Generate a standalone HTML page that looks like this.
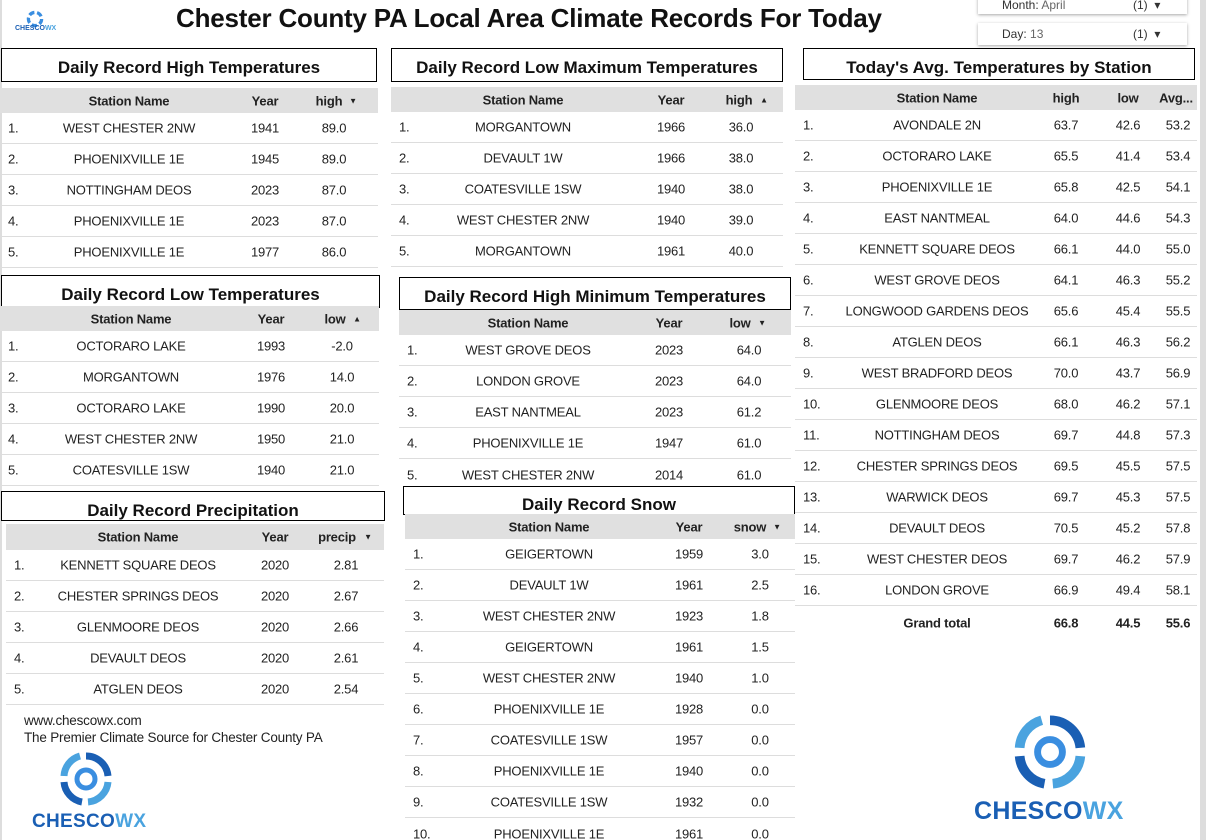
<!DOCTYPE html>
<html><head><meta charset="utf-8"><style>
html,body{margin:0;height:840px;overflow:hidden}
body{width:1206px;position:relative;background:#fff;font-family:"Liberation Sans",sans-serif;color:#222}
.a{position:absolute}
.t{position:absolute;border:1px solid #000;font-weight:bold;font-size:17px;text-align:center;box-sizing:border-box;color:#111}
.h{position:absolute;height:25px;background:#e0e0e0;font-weight:bold;font-size:13px;color:#222;letter-spacing:-0.2px}
.r{position:absolute;height:31px;border-bottom:1px solid #ddd;box-sizing:border-box;font-size:13px;letter-spacing:-0.2px}
.h span,.r span{position:absolute;top:50%;transform:translate(-50%,-50%);white-space:nowrap}
.r span.i{transform:translate(0,-50%);left:8px}
.ar{font-size:8px}
</style></head><body>
<div class="a" style="left:0;top:0;width:2px;height:840px;background:#ddd"></div>
<div class="a" style="left:1200px;top:0;width:6px;height:840px;background:#ddd"></div>

<svg class="a" style="left:20px;top:8px" width="30" height="22" viewBox="0 0 40 40"><circle cx="20" cy="20" r="12" fill="none" stroke="#3a8ee0" stroke-width="6" stroke-dasharray="10 5"/></svg>
<div class="a" style="left:15px;top:25px;font-size:7px;font-weight:bold;color:#1a5fb4">CHESCO<span style="color:#4aa3df">WX</span></div>

<div class="a" style="left:176px;top:3px;font-size:26px;font-weight:bold;color:#111;letter-spacing:-0.2px">Chester County PA Local Area Climate Records For Today</div>

<div class="a" style="left:978px;top:-6px;width:209px;height:20px;box-shadow:0 1px 3px rgba(0,0,0,.35);font-size:12px;color:#333"><span class="a" style="left:24px;top:4px">Month: <span style="color:#666">April</span></span><span class="a" style="left:155px;top:4px">(1) &nbsp;▾</span></div>
<div class="a" style="left:978px;top:23px;width:209px;height:22px;box-shadow:0 1px 3px rgba(0,0,0,.35);font-size:12px;color:#333"><span class="a" style="left:24px;top:4px">Day: <span style="color:#666">13</span></span><span class="a" style="left:155px;top:4px">(1) &nbsp;▾</span></div>

<!-- T1 -->
<div class="t" style="left:1px;top:48px;width:376px;height:34px;line-height:38px">Daily Record High Temperatures</div>
<div class="h" style="left:0;top:88px;width:378px"><span style="left:129px">Station Name</span><span style="left:265px">Year</span><span style="left:329px">high</span><span class="ar" style="left:353px">▼</span></div>
<div class="r" style="left:0;top:113px;width:378px"><span class="i">1.</span><span style="left:129px">WEST CHESTER 2NW</span><span style="left:265px">1941</span><span style="left:334px">89.0</span></div>
<div class="r" style="left:0;top:144px;width:378px"><span class="i">2.</span><span style="left:129px">PHOENIXVILLE 1E</span><span style="left:265px">1945</span><span style="left:334px">89.0</span></div>
<div class="r" style="left:0;top:175px;width:378px"><span class="i">3.</span><span style="left:129px">NOTTINGHAM DEOS</span><span style="left:265px">2023</span><span style="left:334px">87.0</span></div>
<div class="r" style="left:0;top:206px;width:378px"><span class="i">4.</span><span style="left:129px">PHOENIXVILLE 1E</span><span style="left:265px">2023</span><span style="left:334px">87.0</span></div>
<div class="r" style="left:0;top:237px;width:378px"><span class="i">5.</span><span style="left:129px">PHOENIXVILLE 1E</span><span style="left:265px">1977</span><span style="left:334px">86.0</span></div>

<!-- T2 -->
<div class="t" style="left:391px;top:48px;width:392px;height:34px;line-height:38px">Daily Record Low Maximum Temperatures</div>
<div class="h" style="left:391px;top:87px;width:392px"><span style="left:132px">Station Name</span><span style="left:280px">Year</span><span style="left:348px">high</span><span class="ar" style="left:373px">▲</span></div>
<div class="r" style="left:391px;top:112px;width:392px"><span class="i">1.</span><span style="left:132px">MORGANTOWN</span><span style="left:280px">1966</span><span style="left:350px">36.0</span></div>
<div class="r" style="left:391px;top:143px;width:392px"><span class="i">2.</span><span style="left:132px">DEVAULT 1W</span><span style="left:280px">1966</span><span style="left:350px">38.0</span></div>
<div class="r" style="left:391px;top:174px;width:392px"><span class="i">3.</span><span style="left:132px">COATESVILLE 1SW</span><span style="left:280px">1940</span><span style="left:350px">38.0</span></div>
<div class="r" style="left:391px;top:205px;width:392px"><span class="i">4.</span><span style="left:132px">WEST CHESTER 2NW</span><span style="left:280px">1940</span><span style="left:350px">39.0</span></div>
<div class="r" style="left:391px;top:236px;width:392px"><span class="i">5.</span><span style="left:132px">MORGANTOWN</span><span style="left:280px">1961</span><span style="left:350px">40.0</span></div>

<!-- T3 -->
<div class="t" style="left:1px;top:275px;width:379px;height:33px;line-height:38px">Daily Record Low Temperatures</div>
<div class="h" style="left:0;top:306px;width:379px"><span style="left:131px">Station Name</span><span style="left:271px">Year</span><span style="left:335px">low</span><span class="ar" style="left:357px">▲</span></div>
<div class="r" style="left:0;top:331px;width:379px"><span class="i">1.</span><span style="left:131px">OCTORARO LAKE</span><span style="left:271px">1993</span><span style="left:342px">-2.0</span></div>
<div class="r" style="left:0;top:362px;width:379px"><span class="i">2.</span><span style="left:131px">MORGANTOWN</span><span style="left:271px">1976</span><span style="left:342px">14.0</span></div>
<div class="r" style="left:0;top:393px;width:379px"><span class="i">3.</span><span style="left:131px">OCTORARO LAKE</span><span style="left:271px">1990</span><span style="left:342px">20.0</span></div>
<div class="r" style="left:0;top:424px;width:379px"><span class="i">4.</span><span style="left:131px">WEST CHESTER 2NW</span><span style="left:271px">1950</span><span style="left:342px">21.0</span></div>
<div class="r" style="left:0;top:455px;width:379px"><span class="i">5.</span><span style="left:131px">COATESVILLE 1SW</span><span style="left:271px">1940</span><span style="left:342px">21.0</span></div>

<!-- T4 -->
<div class="t" style="left:399px;top:277px;width:392px;height:33px;line-height:38px">Daily Record High Minimum Temperatures</div>
<div class="h" style="left:399px;top:310px;width:392px"><span style="left:129px">Station Name</span><span style="left:270px">Year</span><span style="left:341px">low</span><span class="ar" style="left:363px">▼</span></div>
<div class="r" style="left:399px;top:335px;width:392px"><span class="i">1.</span><span style="left:129px">WEST GROVE DEOS</span><span style="left:270px">2023</span><span style="left:350px">64.0</span></div>
<div class="r" style="left:399px;top:366px;width:392px"><span class="i">2.</span><span style="left:129px">LONDON GROVE</span><span style="left:270px">2023</span><span style="left:350px">64.0</span></div>
<div class="r" style="left:399px;top:397px;width:392px"><span class="i">3.</span><span style="left:129px">EAST NANTMEAL</span><span style="left:270px">2023</span><span style="left:350px">61.2</span></div>
<div class="r" style="left:399px;top:428px;width:392px"><span class="i">4.</span><span style="left:129px">PHOENIXVILLE 1E</span><span style="left:270px">1947</span><span style="left:350px">61.0</span></div>
<div class="r" style="left:399px;top:459px;width:392px;border:none"><span class="i">5.</span><span style="left:129px">WEST CHESTER 2NW</span><span style="left:270px">2014</span><span style="left:350px">61.0</span></div>

<!-- T5 -->
<div class="t" style="left:1px;top:491px;width:384px;height:30px;line-height:38px">Daily Record Precipitation</div>
<div class="h" style="left:6px;top:524px;width:378px;height:26px"><span style="left:132px">Station Name</span><span style="left:269px">Year</span><span style="left:331px">precip</span><span class="ar" style="left:362px">▼</span></div>
<div class="r" style="left:6px;top:550px;width:378px"><span class="i">1.</span><span style="left:132px">KENNETT SQUARE DEOS</span><span style="left:269px">2020</span><span style="left:340px">2.81</span></div>
<div class="r" style="left:6px;top:581px;width:378px"><span class="i">2.</span><span style="left:132px">CHESTER SPRINGS DEOS</span><span style="left:269px">2020</span><span style="left:340px">2.67</span></div>
<div class="r" style="left:6px;top:612px;width:378px"><span class="i">3.</span><span style="left:132px">GLENMOORE DEOS</span><span style="left:269px">2020</span><span style="left:340px">2.66</span></div>
<div class="r" style="left:6px;top:643px;width:378px"><span class="i">4.</span><span style="left:132px">DEVAULT DEOS</span><span style="left:269px">2020</span><span style="left:340px">2.61</span></div>
<div class="r" style="left:6px;top:674px;width:378px"><span class="i">5.</span><span style="left:132px">ATGLEN DEOS</span><span style="left:269px">2020</span><span style="left:340px">2.54</span></div>

<div class="a" style="left:24px;top:712px;font-size:13.5px;line-height:17px;color:#222;letter-spacing:-0.2px">www.chescowx.com<br>The Premier Climate Source for Chester County PA</div>

<!-- T6 -->
<div class="t" style="left:403px;top:486px;width:392px;height:29px;line-height:36px">Daily Record Snow</div>
<div class="h" style="left:405px;top:514px;width:390px"><span style="left:144px">Station Name</span><span style="left:284px">Year</span><span style="left:345px">snow</span><span class="ar" style="left:372px">▼</span></div>
<div class="r" style="left:405px;top:539px;width:390px"><span class="i">1.</span><span style="left:144px">GEIGERTOWN</span><span style="left:284px">1959</span><span style="left:355px">3.0</span></div>
<div class="r" style="left:405px;top:570px;width:390px"><span class="i">2.</span><span style="left:144px">DEVAULT 1W</span><span style="left:284px">1961</span><span style="left:355px">2.5</span></div>
<div class="r" style="left:405px;top:601px;width:390px"><span class="i">3.</span><span style="left:144px">WEST CHESTER 2NW</span><span style="left:284px">1923</span><span style="left:355px">1.8</span></div>
<div class="r" style="left:405px;top:632px;width:390px"><span class="i">4.</span><span style="left:144px">GEIGERTOWN</span><span style="left:284px">1961</span><span style="left:355px">1.5</span></div>
<div class="r" style="left:405px;top:663px;width:390px"><span class="i">5.</span><span style="left:144px">WEST CHESTER 2NW</span><span style="left:284px">1940</span><span style="left:355px">1.0</span></div>
<div class="r" style="left:405px;top:694px;width:390px"><span class="i">6.</span><span style="left:144px">PHOENIXVILLE 1E</span><span style="left:284px">1928</span><span style="left:355px">0.0</span></div>
<div class="r" style="left:405px;top:725px;width:390px"><span class="i">7.</span><span style="left:144px">COATESVILLE 1SW</span><span style="left:284px">1957</span><span style="left:355px">0.0</span></div>
<div class="r" style="left:405px;top:756px;width:390px"><span class="i">8.</span><span style="left:144px">PHOENIXVILLE 1E</span><span style="left:284px">1940</span><span style="left:355px">0.0</span></div>
<div class="r" style="left:405px;top:787px;width:390px"><span class="i">9.</span><span style="left:144px">COATESVILLE 1SW</span><span style="left:284px">1932</span><span style="left:355px">0.0</span></div>
<div class="r" style="left:405px;top:818px;width:390px;border:none"><span class="i">10.</span><span style="left:144px">PHOENIXVILLE 1E</span><span style="left:284px">1961</span><span style="left:355px">0.0</span></div>

<!-- T7 -->
<div class="t" style="left:803px;top:48px;width:392px;height:32px;line-height:37px">Today's Avg. Temperatures by Station</div>
<div class="h" style="left:795px;top:85px;width:402px"><span style="left:142px">Station Name</span><span style="left:271px">high</span><span style="left:333px">low</span><span style="left:381px">Avg...</span></div>
<div class="r" style="left:795px;top:110px;width:402px"><span class="i">1.</span><span style="left:142px">AVONDALE 2N</span><span style="left:271px">63.7</span><span style="left:333px">42.6</span><span style="left:383px">53.2</span></div>
<div class="r" style="left:795px;top:141px;width:402px"><span class="i">2.</span><span style="left:142px">OCTORARO LAKE</span><span style="left:271px">65.5</span><span style="left:333px">41.4</span><span style="left:383px">53.4</span></div>
<div class="r" style="left:795px;top:172px;width:402px"><span class="i">3.</span><span style="left:142px">PHOENIXVILLE 1E</span><span style="left:271px">65.8</span><span style="left:333px">42.5</span><span style="left:383px">54.1</span></div>
<div class="r" style="left:795px;top:203px;width:402px"><span class="i">4.</span><span style="left:142px">EAST NANTMEAL</span><span style="left:271px">64.0</span><span style="left:333px">44.6</span><span style="left:383px">54.3</span></div>
<div class="r" style="left:795px;top:234px;width:402px"><span class="i">5.</span><span style="left:142px">KENNETT SQUARE DEOS</span><span style="left:271px">66.1</span><span style="left:333px">44.0</span><span style="left:383px">55.0</span></div>
<div class="r" style="left:795px;top:265px;width:402px"><span class="i">6.</span><span style="left:142px">WEST GROVE DEOS</span><span style="left:271px">64.1</span><span style="left:333px">46.3</span><span style="left:383px">55.2</span></div>
<div class="r" style="left:795px;top:296px;width:402px"><span class="i">7.</span><span style="left:142px">LONGWOOD GARDENS DEOS</span><span style="left:271px">65.6</span><span style="left:333px">45.4</span><span style="left:383px">55.5</span></div>
<div class="r" style="left:795px;top:327px;width:402px"><span class="i">8.</span><span style="left:142px">ATGLEN DEOS</span><span style="left:271px">66.1</span><span style="left:333px">46.3</span><span style="left:383px">56.2</span></div>
<div class="r" style="left:795px;top:358px;width:402px"><span class="i">9.</span><span style="left:142px">WEST BRADFORD DEOS</span><span style="left:271px">70.0</span><span style="left:333px">43.7</span><span style="left:383px">56.9</span></div>
<div class="r" style="left:795px;top:389px;width:402px"><span class="i">10.</span><span style="left:142px">GLENMOORE DEOS</span><span style="left:271px">68.0</span><span style="left:333px">46.2</span><span style="left:383px">57.1</span></div>
<div class="r" style="left:795px;top:420px;width:402px"><span class="i">11.</span><span style="left:142px">NOTTINGHAM DEOS</span><span style="left:271px">69.7</span><span style="left:333px">44.8</span><span style="left:383px">57.3</span></div>
<div class="r" style="left:795px;top:451px;width:402px"><span class="i">12.</span><span style="left:142px">CHESTER SPRINGS DEOS</span><span style="left:271px">69.5</span><span style="left:333px">45.5</span><span style="left:383px">57.5</span></div>
<div class="r" style="left:795px;top:482px;width:402px"><span class="i">13.</span><span style="left:142px">WARWICK DEOS</span><span style="left:271px">69.7</span><span style="left:333px">45.3</span><span style="left:383px">57.5</span></div>
<div class="r" style="left:795px;top:513px;width:402px"><span class="i">14.</span><span style="left:142px">DEVAULT DEOS</span><span style="left:271px">70.5</span><span style="left:333px">45.2</span><span style="left:383px">57.8</span></div>
<div class="r" style="left:795px;top:544px;width:402px"><span class="i">15.</span><span style="left:142px">WEST CHESTER DEOS</span><span style="left:271px">69.7</span><span style="left:333px">46.2</span><span style="left:383px">57.9</span></div>
<div class="r" style="left:795px;top:575px;width:402px"><span class="i">16.</span><span style="left:142px">LONDON GROVE</span><span style="left:271px">66.9</span><span style="left:333px">49.4</span><span style="left:383px">58.1</span></div>
<div class="r" style="left:795px;top:607px;width:402px;border:none;font-weight:bold"><span style="left:142px">Grand total</span><span style="left:271px">66.8</span><span style="left:333px">44.5</span><span style="left:383px">55.6</span></div>

<svg class="a" style="left:58px;top:750px" width="56" height="58" viewBox="0 0 56 58">
<g fill="none" stroke-width="7">
<path d="M28 6 A22 22 0 0 1 50 26" stroke="#1a5fb4"/>
<path d="M50 32 A22 22 0 0 1 30 52" stroke="#4aa3df"/>
<path d="M24 52 A22 22 0 0 1 6 32" stroke="#1a5fb4"/>
<path d="M6 26 A22 22 0 0 1 22 6" stroke="#4aa3df"/>
<circle cx="28" cy="29" r="9" stroke="#3a8ee0" stroke-width="5"/>
</g></svg>
<div class="a" style="left:32px;top:811px;font-size:19px;font-weight:bold;color:#1a5fb4;letter-spacing:0.3px">CHESCO<span style="color:#4aa3df">WX</span></div>

<svg class="a" style="left:1010px;top:712px" width="80" height="80" viewBox="0 0 56 58">
<g fill="none" stroke-width="7">
<path d="M28 6 A22 22 0 0 1 50 26" stroke="#1a5fb4"/>
<path d="M50 32 A22 22 0 0 1 30 52" stroke="#4aa3df"/>
<path d="M24 52 A22 22 0 0 1 6 32" stroke="#1a5fb4"/>
<path d="M6 26 A22 22 0 0 1 22 6" stroke="#4aa3df"/>
<circle cx="28" cy="29" r="9" stroke="#3a8ee0" stroke-width="5"/>
</g></svg>
<div class="a" style="left:974px;top:797px;font-size:25px;font-weight:bold;color:#1a5fb4;letter-spacing:0.3px">CHESCO<span style="color:#4aa3df">WX</span></div>
</body></html>
